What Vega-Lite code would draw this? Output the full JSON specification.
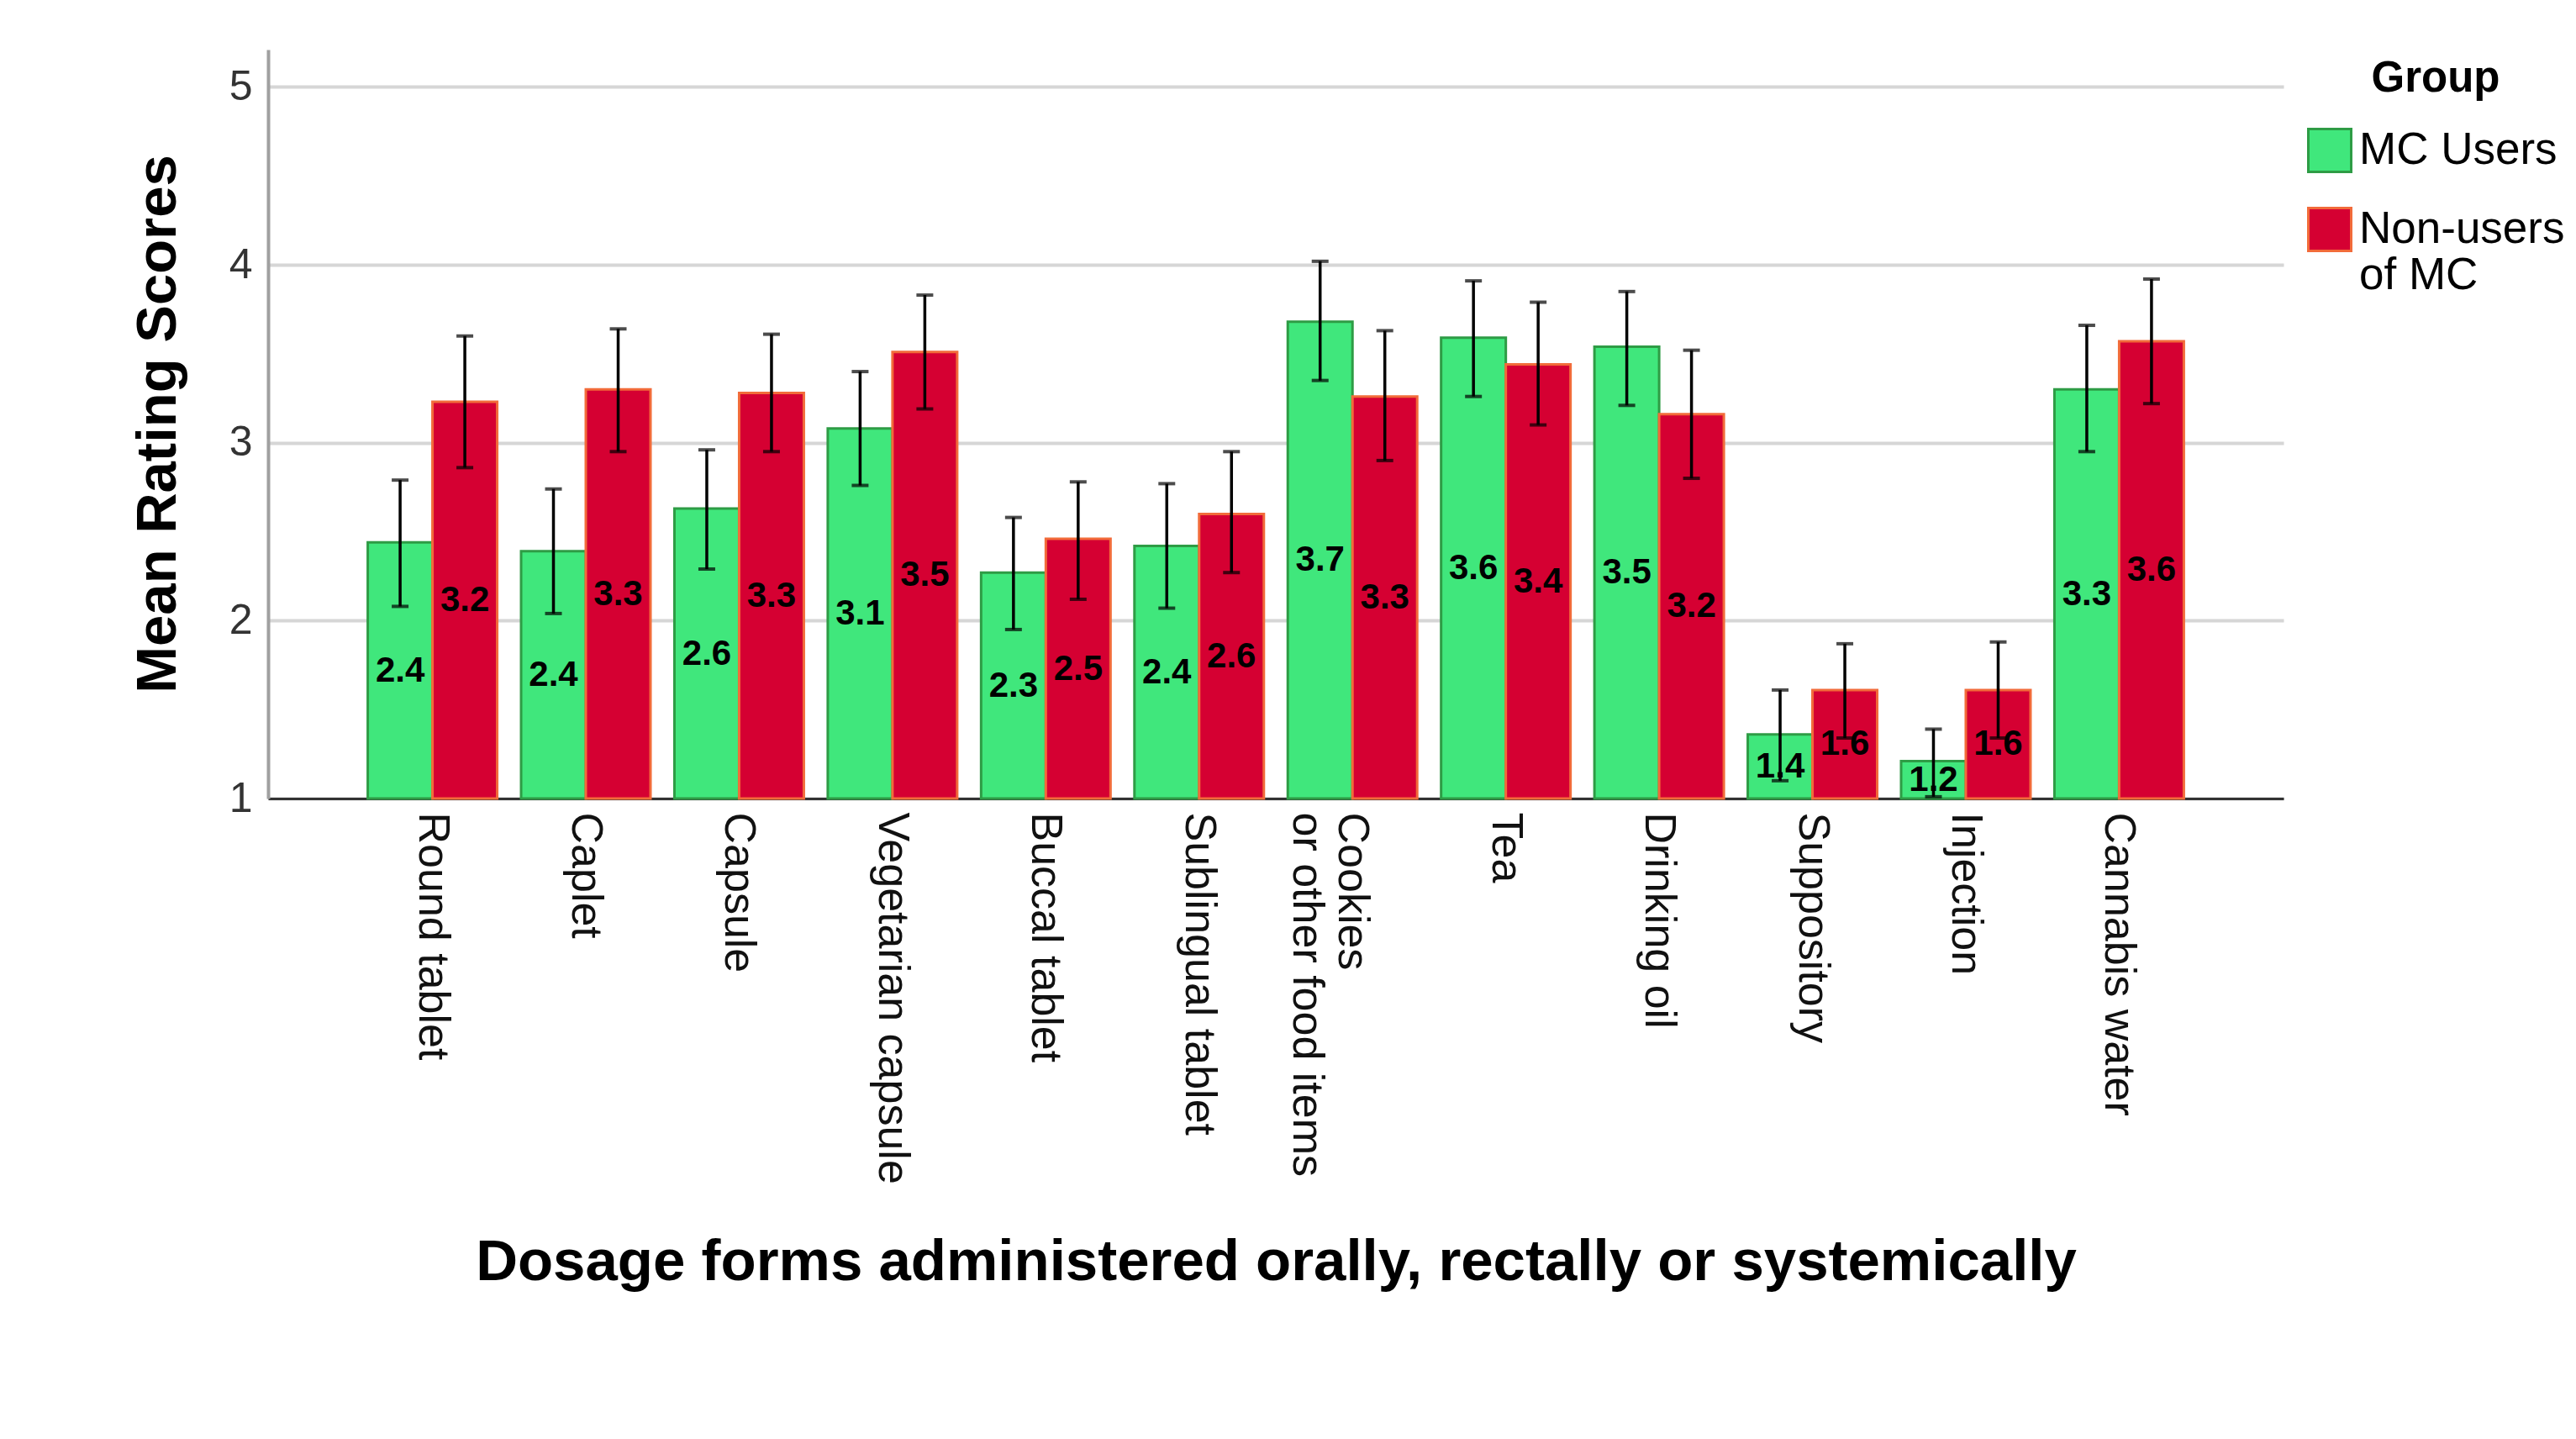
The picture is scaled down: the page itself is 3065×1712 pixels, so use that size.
{
  "$schema": "https://vega.github.io/schema/vega-lite/v6.json",
  "width": 2398,
  "height": 891,
  "autosize": {"type": "none"},
  "padding": {"left": 319, "top": 59, "right": 348, "bottom": 762},
  "background": "white",
  "config": {"font": "Liberation Sans", "view": {"stroke": null}},
  "data": {
    "values": [
      {"form": "Round tablet", "group": "MC Users", "mean": 2.44, "lo": 2.08, "hi": 2.79},
      {"form": "Round tablet", "group": "Non-users of MC", "mean": 3.23, "lo": 2.86, "hi": 3.60},
      {"form": "Caplet", "group": "MC Users", "mean": 2.39, "lo": 2.04, "hi": 2.74},
      {"form": "Caplet", "group": "Non-users of MC", "mean": 3.30, "lo": 2.95, "hi": 3.64},
      {"form": "Capsule", "group": "MC Users", "mean": 2.63, "lo": 2.29, "hi": 2.96},
      {"form": "Capsule", "group": "Non-users of MC", "mean": 3.28, "lo": 2.95, "hi": 3.61},
      {"form": "Vegetarian capsule", "group": "MC Users", "mean": 3.08, "lo": 2.76, "hi": 3.40},
      {"form": "Vegetarian capsule", "group": "Non-users of MC", "mean": 3.51, "lo": 3.19, "hi": 3.83},
      {"form": "Buccal tablet", "group": "MC Users", "mean": 2.27, "lo": 1.95, "hi": 2.58},
      {"form": "Buccal tablet", "group": "Non-users of MC", "mean": 2.46, "lo": 2.12, "hi": 2.78},
      {"form": "Sublingual tablet", "group": "MC Users", "mean": 2.42, "lo": 2.07, "hi": 2.77},
      {"form": "Sublingual tablet", "group": "Non-users of MC", "mean": 2.60, "lo": 2.27, "hi": 2.95},
      {"form": "Cookies or other food items", "group": "MC Users", "mean": 3.68, "lo": 3.35, "hi": 4.02},
      {"form": "Cookies or other food items", "group": "Non-users of MC", "mean": 3.26, "lo": 2.90, "hi": 3.63},
      {"form": "Tea", "group": "MC Users", "mean": 3.59, "lo": 3.26, "hi": 3.91},
      {"form": "Tea", "group": "Non-users of MC", "mean": 3.44, "lo": 3.10, "hi": 3.79},
      {"form": "Drinking oil", "group": "MC Users", "mean": 3.54, "lo": 3.21, "hi": 3.85},
      {"form": "Drinking oil", "group": "Non-users of MC", "mean": 3.16, "lo": 2.80, "hi": 3.52},
      {"form": "Suppository", "group": "MC Users", "mean": 1.36, "lo": 1.10, "hi": 1.61},
      {"form": "Suppository", "group": "Non-users of MC", "mean": 1.61, "lo": 1.34, "hi": 1.87},
      {"form": "Injection", "group": "MC Users", "mean": 1.21, "lo": 1.01, "hi": 1.39},
      {"form": "Injection", "group": "Non-users of MC", "mean": 1.61, "lo": 1.34, "hi": 1.88},
      {"form": "Cannabis water", "group": "MC Users", "mean": 3.30, "lo": 2.95, "hi": 3.66},
      {"form": "Cannabis water", "group": "Non-users of MC", "mean": 3.57, "lo": 3.22, "hi": 3.92}
    ]
  },
  "encoding": {
    "x": {
      "field": "form",
      "type": "nominal",
      "sort": ["Round tablet", "Caplet", "Capsule", "Vegetarian capsule", "Buccal tablet", "Sublingual tablet", "Cookies or other food items", "Tea", "Drinking oil", "Suppository", "Injection", "Cannabis water"],
      "scale": {"paddingInner": 0.156, "paddingOuter": 0.65},
      "axis": {
        "title": "Dosage forms administered orally, rectally or systemically",
        "titleFontSize": 69,
        "titleFontWeight": "bold",
        "titleColor": "black",
        "titleX": 1199,
        "titleY": 551,
        "titleBaseline": "middle",
        "labelAngle": 90,
        "labelFontSize": 52,
        "labelColor": "#111111",
        "labelPadding": 16,
        "labelLimit": 1000,
        "labelExpr": "datum.value == 'Cookies or other food items' ? ['Cookies', 'or other food items'] : datum.label",
        "ticks": false,
        "domainColor": "#333333",
        "domainWidth": 3
      }
    },
    "xOffset": {
      "field": "group",
      "type": "nominal",
      "scale": {"domain": ["MC Users", "Non-users of MC"], "paddingInner": 0, "paddingOuter": 0}
    }
  },
  "layer": [
    {
      "layer": [
        {
          "mark": {"type": "bar", "strokeWidth": 3},
          "encoding": {
            "y": {
              "field": "mean",
              "type": "quantitative",
              "scale": {"domain": [1, 5.21], "nice": false, "zero": false},
              "axis": {
                "title": "Mean Rating Scores",
                "titleFontSize": 67,
                "titleFontWeight": "bold",
                "titleColor": "black",
                "titleX": -131,
                "titleY": 445,
                "titleBaseline": "middle",
                "values": [1, 2, 3, 4, 5],
                "format": "d",
                "labelFontSize": 50,
                "labelColor": "#333333",
                "labelPadding": 19,
                "ticks": false,
                "domainColor": "#a0a0a0",
                "domainWidth": 4,
                "gridColor": "#d6d6d6",
                "gridWidth": 4
              }
            },
            "y2": {"datum": 1},
            "fill": {
              "field": "group",
              "type": "nominal",
              "scale": {"domain": ["MC Users", "Non-users of MC"], "range": ["#40e77c", "#d50032"]},
              "legend": {
                "title": "Group",
                "orient": "none",
                "legendX": 2426,
                "legendY": 10,
                "titleFontSize": 51,
                "titleFontWeight": "bold",
                "titleColor": "black",
                "titleAnchor": "middle",
                "titlePadding": 32,
                "labelFontSize": 53,
                "labelColor": "black",
                "labelOffset": 8,
                "labelLimit": 500,
                "symbolType": "square",
                "symbolSize": 2601,
                "symbolStrokeWidth": 3,
                "rowPadding": 30,
                "labelExpr": "datum.value == 'Non-users of MC' ? ['Non-users', 'of MC'] : datum.label"
              }
            },
            "stroke": {
              "field": "group",
              "type": "nominal",
              "scale": {"domain": ["MC Users", "Non-users of MC"], "range": ["#2e9c45", "#f26b3a"]},
              "legend": {
                "title": "Group",
                "orient": "none",
                "legendX": 2426,
                "legendY": 10,
                "titleFontSize": 51,
                "titleFontWeight": "bold",
                "titleColor": "black",
                "titleAnchor": "middle",
                "titlePadding": 32,
                "labelFontSize": 53,
                "labelColor": "black",
                "labelOffset": 8,
                "labelLimit": 500,
                "symbolType": "square",
                "symbolSize": 2601,
                "symbolStrokeWidth": 3,
                "rowPadding": 30,
                "labelExpr": "datum.value == 'Non-users of MC' ? ['Non-users', 'of MC'] : datum.label"
              }
            }
          }
        },
        {
          "mark": {"type": "rule", "color": "black", "strokeWidth": 3.5},
          "encoding": {
            "y": {"field": "lo", "type": "quantitative"},
            "y2": {"field": "hi"}
          }
        },
        {
          "mark": {"type": "tick", "color": "black", "size": 20, "thickness": 4},
          "encoding": {"y": {"field": "hi", "type": "quantitative"}}
        },
        {
          "mark": {"type": "tick", "color": "black", "size": 20, "thickness": 4},
          "encoding": {"y": {"field": "lo", "type": "quantitative"}}
        }
      ]
    },
    {
      "mark": {"type": "text", "font": "Liberation Sans", "fontWeight": "bold", "fontSize": 42, "color": "black", "align": "center", "baseline": "middle"},
      "encoding": {
        "y": {"field": "mean", "type": "quantitative", "scale": {"domain": [1, 9.42], "nice": false, "zero": false}, "axis": null},
        "text": {"field": "mean", "type": "quantitative", "format": ".1f"}
      }
    }
  ],
  "resolve": {"scale": {"y": "independent"}}
}
